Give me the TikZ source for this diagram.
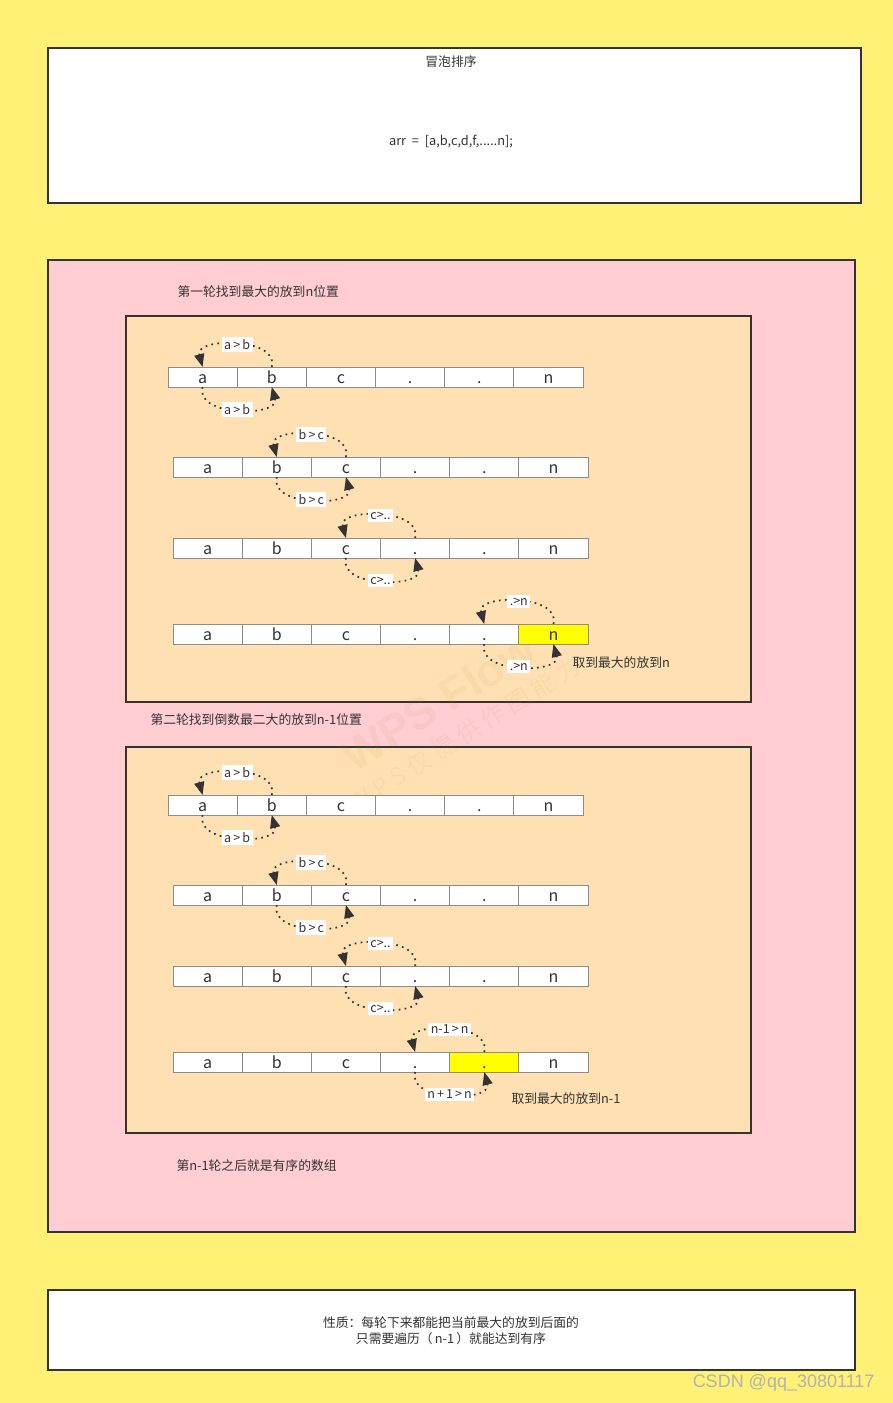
\documentclass[tikz,border=0pt]{standalone}
\usepackage{fontspec}
\setmainfont{Noto Sans CJK SC}
\newfontfamily\csdnfont{Liberation Sans}
\usetikzlibrary{arrows.meta,positioning}
\definecolor{bgyellow}{HTML}{FFF176}
\definecolor{roundpink}{HTML}{FFCDD2}
\definecolor{roundorange}{HTML}{FFE0B2}
\definecolor{hlyellow}{HTML}{FFFF00}
\definecolor{linegray}{HTML}{333333}
\definecolor{cellgray}{HTML}{8C8C8C}
\tikzset{
  panel/.style={draw=linegray, line width=1.3pt},
  cell/.style={draw=cellgray, line width=0.9pt, minimum width=69.17pt, minimum height=20pt,
               inner sep=0pt, outer sep=0pt, text height=13pt, text depth=0pt,
               font=\fontsize{16}{16}\selectfont, text=linegray},
  swap/.style={draw=linegray, line width=1.7pt, dash pattern=on 1.7pt off 4.3pt,
               looseness=1.15, -{Triangle[length=13pt,width=10pt]}},
  tag/.style={fill=white, inner sep=2.5pt, font=\fontsize{12.5}{13}\selectfont, text=linegray},
  note/.style={font=\fontsize{12.8}{16}\selectfont, text=linegray},
}
% one row of the array, cell #2 highlighted
\newcommand{\cellrow}[2]{
  \foreach \t [count=\i] in {a,b,c,.,.,n}{
    \ifnum\i=#2 \def\cellfill{hlyellow}\else\def\cellfill{white}\fi
    \node[cell, fill=\cellfill] (#1-\i) at ({(\i-0.5)*69.17},0) {\t};
  }
}

\begin{document}
\begin{tikzpicture}[x=1pt, y=-1pt]
  \fill[bgyellow] (0,0) rectangle (893,1403);
  \useasboundingbox (0,0) rectangle (893,1403);

  % top panel
  \draw[panel, fill=white] (48,48) rectangle (861,203);
  \node[note] (title) at (451,62) {冒泡排序};
  \node[note] (arr) at (451,142) {arr\ \ =\ \ [a,b,c,d,f,.....n];};

  % rounds panel
  \draw[panel, fill=roundpink] (48,260) rectangle (855,1232);
  \draw[panel, fill=roundorange] (126,316) rectangle (751,702);
  \draw[panel, fill=roundorange] (126,747) rectangle (751,1133);

  % watermark
  \node[rotate=32, opacity=0.07, text=brown, font=\csdnfont\bfseries\fontsize{45}{45}\selectfont]
    (wps) at (438,702) {WPS Flow};
  \node[rotate=32, opacity=0.07, text=brown, font=\fontsize{24}{24}\selectfont]
    (wpsnote) at (465,734) {W P S 仅 提 供 作 图 能 力};

  \node[note, anchor=west] (roundone) at (174,292) {第一轮找到最大的放到n位置};
  \node[note, anchor=west] (roundtwo) at (147,720) {第二轮找到倒数最二大的放到n-1位置};
  \node[note, anchor=west] (roundlast) at (173,1166) {第n-1轮之后就是有序的数组};

  % first round
  \begin{scope}[shift={(168,377)}]
    \cellrow{one1}{0}
  \end{scope}
  \draw[swap] (one1-2.north) to[out=75,in=105] node[tag] {a\,>\,b} (one1-1.north);
  \draw[swap] (one1-1.south) to[out=-105,in=-75] node[tag] {a\,>\,b} (one1-2.south);

  \begin{scope}[shift={(173,467)}]
    \cellrow{one2}{0}
  \end{scope}
  \draw[swap] (one2-3.north) to[out=75,in=105] node[tag] {b\,>\,c} (one2-2.north);
  \draw[swap] (one2-2.south) to[out=-105,in=-75] node[tag] {b\,>\,c} (one2-3.south);

  \begin{scope}[shift={(173,548)}]
    \cellrow{one3}{0}
  \end{scope}
  \draw[swap] (one3-4.north) to[out=75,in=105] node[tag] {c>..} (one3-3.north);
  \draw[swap] (one3-3.south) to[out=-105,in=-75] node[tag] {c>..} (one3-4.south);

  \begin{scope}[shift={(173,634)}]
    \cellrow{one4}{6}
  \end{scope}
  \draw[swap] (one4-6.north) to[out=75,in=105] node[tag] {.>n} (one4-5.north);
  \draw[swap] (one4-5.south) to[out=-105,in=-75] node[tag] {.>n} (one4-6.south);
  \node[note, anchor=west] (maxn) at (569,663) {取到最大的放到n};

  % second round
  \begin{scope}[shift={(168,805)}]
    \cellrow{two1}{0}
  \end{scope}
  \draw[swap] (two1-2.north) to[out=75,in=105] node[tag] {a\,>\,b} (two1-1.north);
  \draw[swap] (two1-1.south) to[out=-105,in=-75] node[tag] {a\,>\,b} (two1-2.south);

  \begin{scope}[shift={(173,895)}]
    \cellrow{two2}{0}
  \end{scope}
  \draw[swap] (two2-3.north) to[out=75,in=105] node[tag] {b\,>\,c} (two2-2.north);
  \draw[swap] (two2-2.south) to[out=-105,in=-75] node[tag] {b\,>\,c} (two2-3.south);

  \begin{scope}[shift={(173,976)}]
    \cellrow{two3}{0}
  \end{scope}
  \draw[swap] (two3-4.north) to[out=75,in=105] node[tag] {c>..} (two3-3.north);
  \draw[swap] (two3-3.south) to[out=-105,in=-75] node[tag] {c>..} (two3-4.south);

  \begin{scope}[shift={(173,1062)}]
    \cellrow{two4}{5}
  \end{scope}
  \draw[swap] (two4-5.north) to[out=75,in=105] node[tag] {n-1\,>\,n} (two4-4.north);
  \draw[swap] (two4-4.south) to[out=-105,in=-75] node[tag] {n\,+\,1\,>\,n} (two4-5.south);
  \node[note, anchor=west] (maxnone) at (508,1099) {取到最大的放到n-1};

  % bottom panel
  \draw[panel, fill=white] (48,1290) rectangle (855,1370);
  \node[note, align=center] (property) at (451,1331)
    {性质：每轮下来都能把当前最大的放到后面的\\只需要遍历（\,n-1\,）就能达到有序};

  \node[text=black!30, font=\csdnfont\fontsize{18}{18}\selectfont, anchor=east]
    (csdn) at (878,1383) {CSDN @qq\_30801117};
\end{tikzpicture}
\end{document}
